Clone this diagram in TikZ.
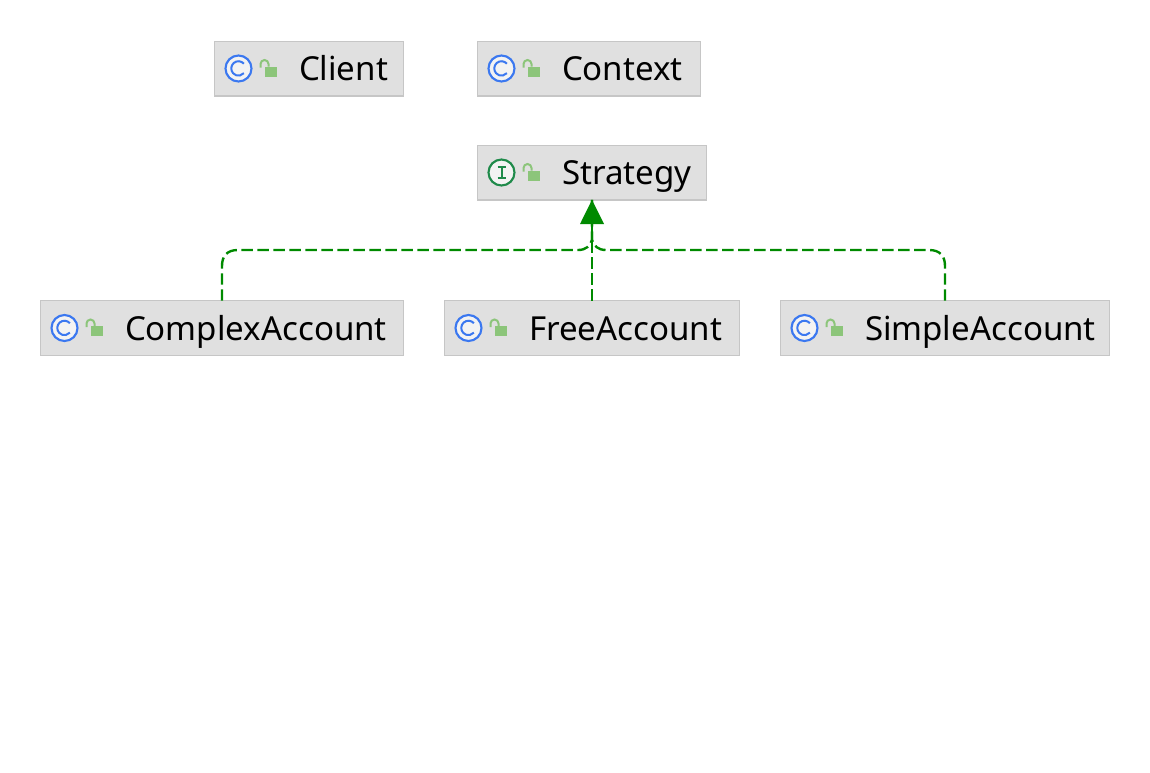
\documentclass[tikz,border=0pt]{standalone}
\usepackage{fontspec}
\setmainfont{Noto Sans}
\usetikzlibrary{arrows.meta,calc}
\definecolor{boxfill}{HTML}{E0E0E0}
\definecolor{boxline}{HTML}{C6C6C6}
\definecolor{classblue}{HTML}{3B78F0}
\definecolor{ifgreen}{HTML}{1F8A4A}
\definecolor{lockgreen}{HTML}{8CC57A}
\definecolor{linkgreen}{HTML}{008A00}
\tikzset{
  x=0.75pt,y=-0.75pt,
  umlbox/.style={draw=boxline,fill=boxfill,line width=1pt,minimum height=41pt,inner sep=0pt,outer sep=0pt},
  umltext/.style={anchor=base west,inner sep=0pt,outer sep=0pt,font=\fontsize{24.8}{24.8}\selectfont,text=black},
  realize/.style={draw=linkgreen,line width=1.8pt,dash pattern=on 8.5pt off 3.5pt},
  classicon/.pic={
    \draw[classblue,line width=1.6pt,fill=white!60!boxfill] (0,0) circle (13);
    \draw[classblue,line width=1.5pt] (5.4,-4.8) arc (-41:-319:7.2);
  },
  ificon/.pic={
    \draw[ifgreen,line width=1.6pt,fill=white!60!boxfill] (0,0) circle (13);
    \draw[ifgreen,line width=1.5pt] (-4,-5.5) -- (4,-5.5) (0,-5.5) -- (0,5.5) (-4,5.5) -- (4,5.5);
  },
  lockicon/.pic={
    \fill[lockgreen] (2,-2) rectangle (14,8);
    \draw[lockgreen,line width=1.5pt] (-2,-1) -- (-2,-4.5) arc (180:360:4) -- (6,-2);
  },
}
\newcommand{\umlclass}[7]{%
  % name, left, right, top, bottom, icon, text
  \node[umlbox,minimum width={(#3-#2-1)*0.75pt}] (#1) at ({(#2+#3)/2},{(#4+#5)/2}) {};
  \pic at ($(#1.west)+(24,0)$) {#6};
  \pic at ($(#1.west)+(48,0)$) {lockicon};
  \node[umltext] (#1text) at ($(#1.west)+(84.5,12)$) {#7};
}
\begin{document}
\begin{tikzpicture}
\useasboundingbox (0,0) rectangle (1150,772);
\fill[white] (0,0) rectangle (1150,772);
\umlclass{client}{214}{404}{41}{96}{classicon}{Client}
\umlclass{context}{477}{701}{41}{96}{classicon}{Context}
\umlclass{strategy}{477}{707}{145}{200}{ificon}{Strategy}
\umlclass{complex}{40}{404}{300}{356}{classicon}{ComplexAccount}
\umlclass{free}{444}{740}{300}{356}{classicon}{FreeAccount}
\umlclass{simple}{780}{1110}{300}{356}{classicon}{SimpleAccount}
\coordinate (join) at (592,240);
\draw[realize] (complex.north) -- (222,266) .. controls (222,256) and (227,250) .. (238,250) -- (578,250) .. controls (586,250) and (590,246) .. (join) -- (strategy.south);
\draw[realize] (simple.north) -- (945,266) .. controls (945,256) and (940,250) .. (929,250) -- (606,250) .. controls (598,250) and (594,246) .. (join) -- (strategy.south);
\draw[realize] (free.north) -- (strategy.south);
\draw[draw=linkgreen,line width=1.8pt] (join) -- (592,222);
\fill[linkgreen] (strategy.south) -- (604,224) -- (580,224) -- cycle;
\end{tikzpicture}
\end{document}
